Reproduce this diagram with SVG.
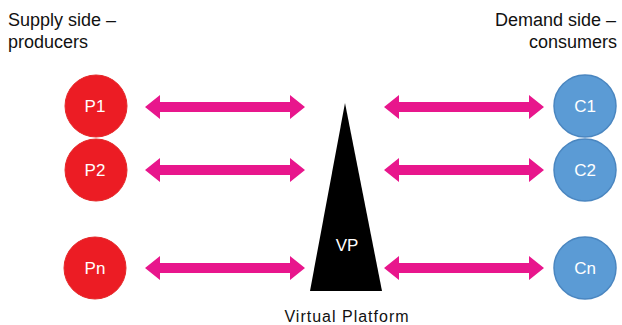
<svg xmlns="http://www.w3.org/2000/svg" width="622" height="325" viewBox="0 0 622 325">
<defs>
<style>
.t{font-family:"Liberation Sans",Arial,sans-serif;fill:#111}
.lbl{font-family:"Liberation Sans",Arial,sans-serif;fill:#fff;font-size:17px;text-anchor:middle}
.p{fill:#EC1C24;stroke:#E52A2A;stroke-width:1}
.c{fill:#5B9BD5;stroke:#4A86C0;stroke-width:1.5}
.arr{fill:#E8168C}
</style>
<path id="dbl" d="M0,0 L15,-12 L15,-5 L145,-5 L145,-12 L160,0 L145,12 L145,5 L15,5 L15,12 Z"/>
</defs>
<rect width="622" height="325" fill="#fff"/>
<text class="t" x="8" y="26" font-size="18">Supply side –</text>
<text class="t" x="8" y="48" font-size="18">producers</text>
<text class="t" x="616" y="26" font-size="18" text-anchor="end">Demand side –</text>
<text class="t" x="617" y="48" font-size="18" text-anchor="end">consumers</text>
<g id="connectors" class="arr">
<use href="#dbl" x="145" y="107"/>
<use href="#dbl" x="145" y="170"/>
<use href="#dbl" x="145" y="268"/>
<use href="#dbl" x="384" y="107"/>
<use href="#dbl" x="384" y="170"/>
<use href="#dbl" x="384" y="268"/>
</g>
<g id="P1"><circle class="p" cx="96" cy="106" r="31"/><text class="lbl" x="95" y="112">P1</text></g>
<g id="P2"><circle class="p" cx="96" cy="170" r="31"/><text class="lbl" x="95" y="176">P2</text></g>
<g id="Pn"><circle class="p" cx="95" cy="268" r="31"/><text class="lbl" x="95" y="274">Pn</text></g>
<g id="C1"><circle class="c" cx="585" cy="106" r="31"/><text class="lbl" x="585" y="112">C1</text></g>
<g id="C2"><circle class="c" cx="585" cy="170" r="31"/><text class="lbl" x="585" y="176">C2</text></g>
<g id="Cn"><circle class="c" cx="585" cy="268" r="31"/><text class="lbl" x="585" y="274">Cn</text></g>
<g id="VP">
<polygon points="345,103 382,291 310,291" fill="#000"/>
<text class="lbl" x="347" y="251" font-size="13">VP</text>
<text class="t" x="347" y="322" font-size="16" letter-spacing="1" text-anchor="middle">Virtual Platform</text>
</g>
</svg>
